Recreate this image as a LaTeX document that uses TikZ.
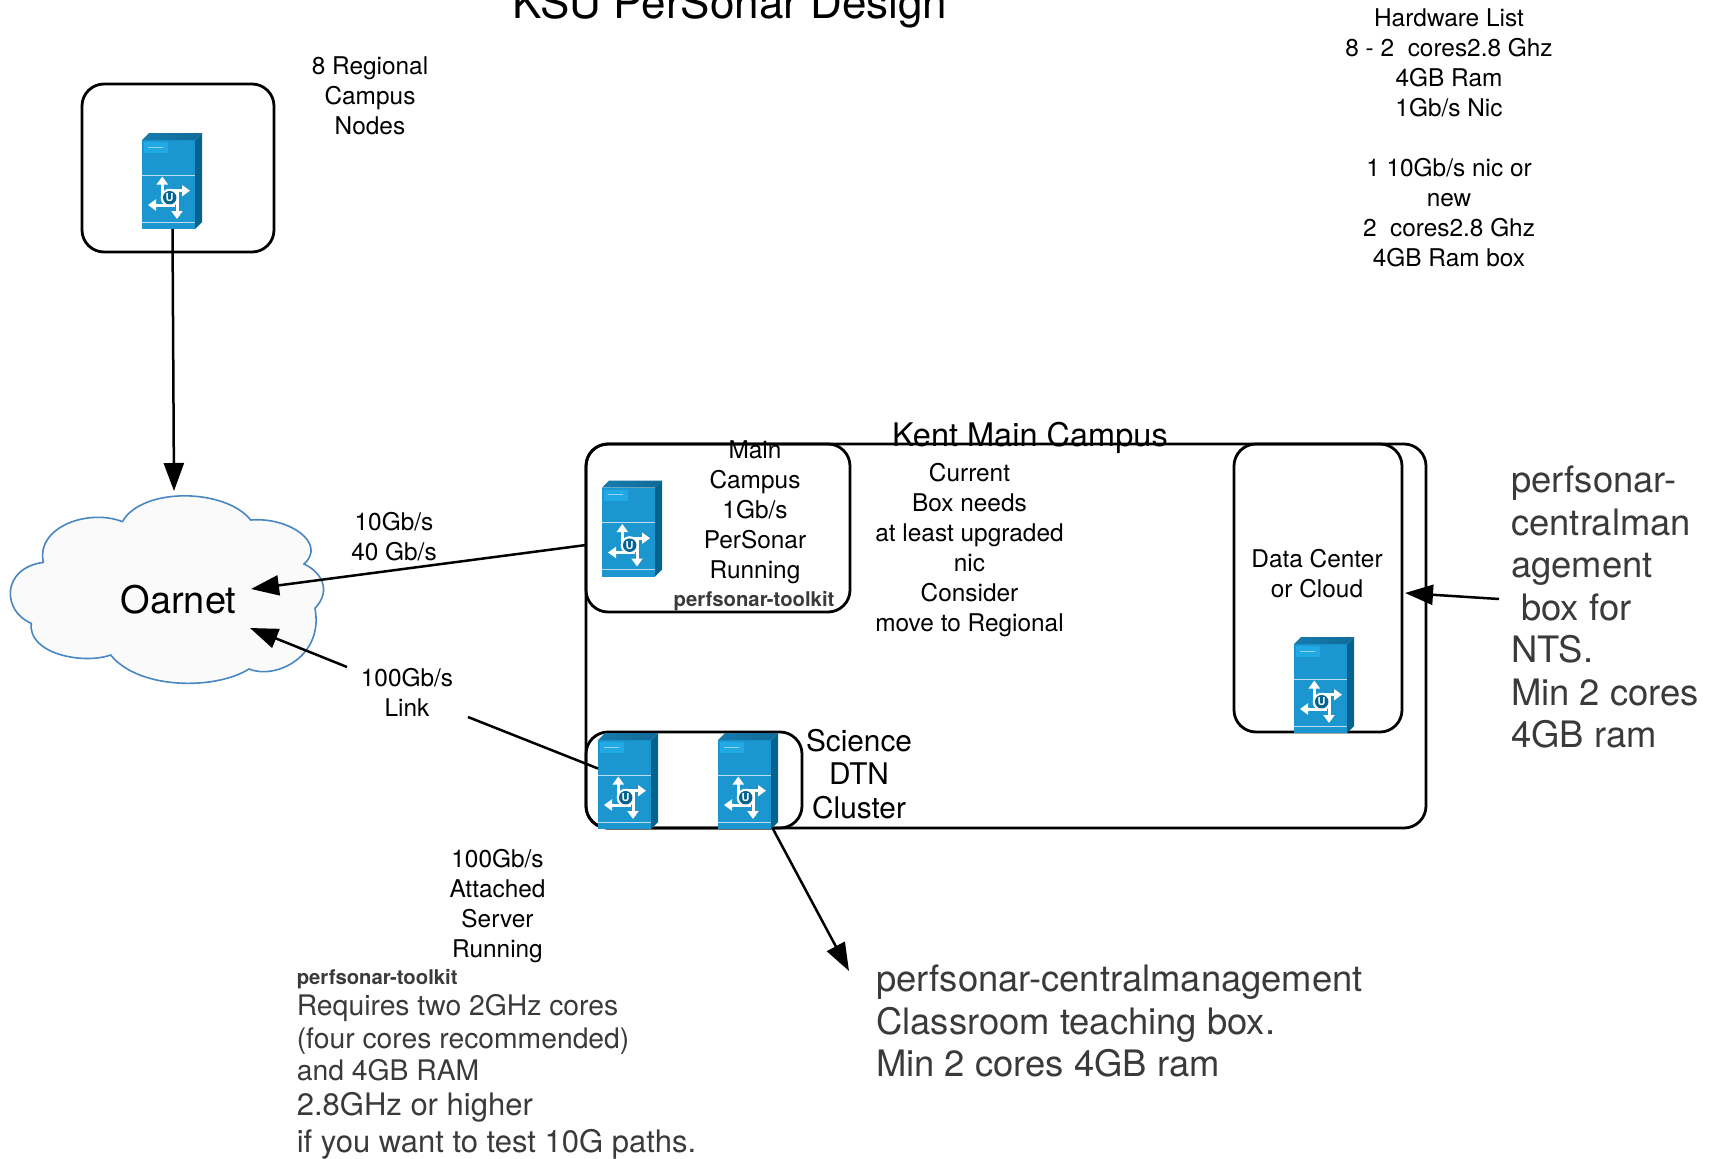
\documentclass[tikz,border=0pt]{standalone}
\usepackage{fontspec}
\setmainfont{TeX Gyre Heros}
\usetikzlibrary{arrows.meta,calc}
\definecolor{srvfront}{HTML}{1B96CF}
\definecolor{srvside}{HTML}{06628F}
\definecolor{srvtop}{HTML}{12709F}
\definecolor{srvtab}{HTML}{20A9E4}
\definecolor{greytxt}{HTML}{3A3A3A}
\definecolor{cloudline}{HTML}{4A86C0}
\definecolor{cloudfill}{HTML}{FAFAFA}
\tikzset{
  roundbox/.style={draw=black,line width=2.8pt,rounded corners=22pt,fill=none,inner sep=0pt,outer sep=0pt,anchor=north west},
  srvbody/.style={fill=srvfront,draw=none,minimum width=53pt,minimum height=89pt,inner sep=0pt,outer sep=0pt,anchor=north west},
  conn/.style={draw=black,line width=2.5pt},
  arr/.style={conn,-{Triangle[length=28pt,width=20pt]}},
  lab/.style={align=center,inner sep=0pt,font=\fontsize{24.4}{30}\selectfont},
  greylab/.style={align=left,inner sep=0pt,anchor=west,text=greytxt},
  pinarrow/.style={draw=white,line width=3pt,-{Triangle[length=8pt,width=11pt]}}
}
\newcommand{\srvicon}[3]{%
  \node[srvbody] (#1) at (#2,#3) {};
  \begin{scope}[shift={(#2,#3)}]
    \fill[srvside] (53,0) -- (60,-7) -- (60,82) -- (53,89) -- cycle;
    \shade[left color=srvtop!70!srvfront,right color=srvtop!95!black] (0,0) -- (7,-7) -- (60,-7) -- (53,0) -- cycle;
    \fill[srvtab] (2,2) rectangle (26,13);
    \draw[srvtab!50!white,line width=.8pt] (6,7) -- (21,7);
    \draw[white!70!srvfront,line width=.8pt] (0,35) -- (53,35);
    \draw[white!70!srvfront,line width=.8pt] (0,82) -- (53,82);
    \draw[pinarrow] (20.3,58) -- (20.3,36.5);
    \draw[pinarrow] (26,50.7) -- (48,50.7);
    \draw[pinarrow] (35,50) -- (35,79);
    \draw[pinarrow] (33,65) -- (6,65);
    \node[circle,fill=white,inner sep=0pt,minimum size=18pt] at (27.7,57.7) {};
    \node[circle,fill=srvside,inner sep=0pt,minimum size=13.5pt,text=white,font=\fontsize{11}{11}\selectfont\bfseries] at (27.7,57.7) {U};
  \end{scope}}
\begin{document}
\begin{tikzpicture}[x=1pt,y=-1pt]
\useasboundingbox (0,0) rectangle (1711,1159);
% cloud
\begin{scope}[shift={(-1,470)},x=0.33333pt,y=-0.33333pt]
\draw[cloudline,fill=cloudfill,line width=1.6pt]
 (370,155) .. controls (430,50) and (680,55) .. (755,150)
 .. controls (870,140) and (985,220) .. (915,282)
 .. controls (965,305) and (1000,360) .. (948,415)
 .. controls (975,560) and (830,630) .. (750,597)
 .. controls (650,660) and (420,660) .. (335,555)
 .. controls (250,585) and (85,550) .. (97,460)
 .. controls (10,425) and (5,295) .. (133,277)
 .. controls (110,170) and (270,115) .. (370,155) -- cycle;
\end{scope}
\node[inner sep=0pt,font=\fontsize{38}{38}\selectfont] (oarnet) at (178.5,600) {Oarnet};
% boxes
\node[roundbox,minimum width=192pt,minimum height=168pt] (regional) at (82,84) {};
\node[roundbox,minimum width=840pt,minimum height=384pt] (campus) at (586,444) {};
\node[roundbox,minimum width=264pt,minimum height=168pt] (main) at (586,444) {};
\node[roundbox,minimum width=168pt,minimum height=288pt] (data) at (1234,444) {};
\node[roundbox,minimum width=216pt,minimum height=96pt] (dtn) at (586,732) {};
% servers
\srvicon{s1}{142}{140}
\srvicon{s2}{602}{487.5}
\srvicon{s3}{1294}{644}
\srvicon{s4}{598}{740}
\srvicon{s5}{718}{740}
% connector ends
\coordinate (tipTop) at (174,491);
\coordinate (tipMain) at (251,589);
\coordinate (tipLink) at (250,628);
\coordinate (fromLink) at (347,667);
\coordinate (linkOut) at (468,717);
\coordinate (tipCentral) at (849,971);
\coordinate (tipData) at (1405,593);
\coordinate (fromData) at (1499,599);
% connectors
\draw[arr] ($(s1.south)+(4,0)$) -- (tipTop);
\draw[arr] ($(main.west)+(0,17)$) -- (tipMain);
\draw[arr] (fromLink) -- (tipLink);
\draw[conn] (linkOut) -- ($(s4.west)+(0,-16)$);
\draw[arr] ($(s5.south east)+(2,0)$) -- (tipCentral);
\draw[arr] (fromData) -- (tipData);
% texts
\node[inner sep=0pt,anchor=base,font=\fontsize{44}{44}\selectfont] (title) at (730,18) {KSU PerSonar Design};
\node[lab] (t1) at (370,95.5) {8 Regional\\Campus\\Nodes};
\node[lab] (t2) at (1449,137.5) {Hardware List\\8 - 2\ \ cores2.8 Ghz\\4GB Ram\\1Gb/s Nic\\[30pt]1 10Gb/s nic or\\new\\2\ \ cores2.8 Ghz\\4GB Ram box};
\node[inner sep=0pt,font=\fontsize{32.5}{32.5}\selectfont] (t3) at (1030,438) {Kent Main Campus};
\node[lab] (t4) at (755,512) {Main\\Campus\\1Gb/s\\PerSonar\\Running};
\node[inner sep=0pt,text=greytxt,font=\fontsize{20.3}{20.3}\selectfont\bfseries] (t5) at (754,601) {perfsonar-toolkit};
\node[lab] (t6) at (969.5,550) {Current\\Box needs\\at least upgraded\\nic\\Consider\\move to Regional};
\node[lab] (t7) at (1317,573.5) {Data Center\\or Cloud};
\node[align=center,inner sep=0pt,font=\fontsize{29.8}{33.5}\selectfont] (t8) at (859,774) {Science\\DTN\\Cluster};
\node[lab] (t9) at (394,537) {10Gb/s\\40 Gb/s};
\node[lab] (t10) at (407,692.5) {100Gb/s\\Link};
\node[lab] (t11) at (497.5,906) {100Gb/s\\Attached\\Server\\Running};
\node[greylab,font=\fontsize{20.3}{20.3}\selectfont\bfseries] (t12) at (296.6,979) {perfsonar-toolkit};
\node[greylab,font=\fontsize{28.3}{32.5}\selectfont] (t13) at (296.6,1038) {Requires two 2GHz cores\\(four cores recommended)\\and 4GB RAM};
\node[greylab,font=\fontsize{31}{37}\selectfont] (t14) at (296.6,1126) {2.8GHz or higher\\if you want to test 10G paths.};
\node[greylab,font=\fontsize{36.4}{42.5}\selectfont] (t15) at (876,1021) {perfsonar-centralmanagement\\Classroom teaching box.\\Min 2 cores 4GB ram};
\node[greylab,font=\fontsize{36.4}{42.5}\selectfont] (t16) at (1511,607) {perfsonar-\\centralman\\agement\\\ box for\\NTS.\\Min 2 cores\\4GB ram};
\end{tikzpicture}
\end{document}
